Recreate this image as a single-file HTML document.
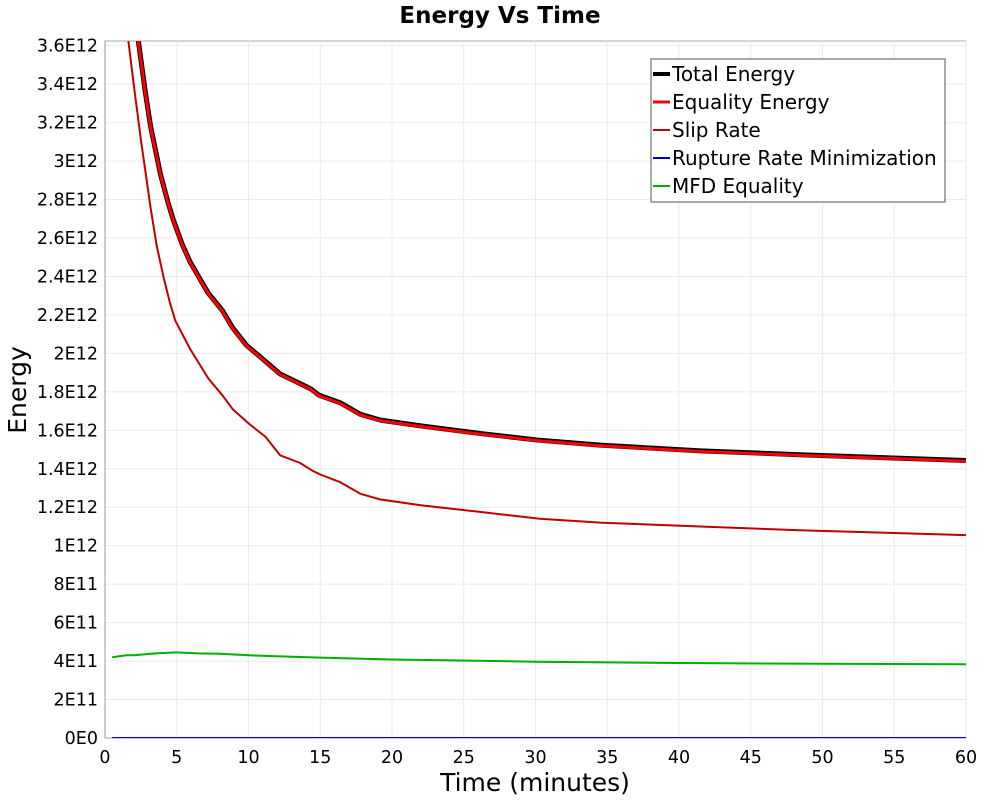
<!DOCTYPE html>
<html><head><meta charset="utf-8"><style>
body{margin:0;background:#fff;}
svg{display:block;font-family:"DejaVu Sans","Liberation Sans",sans-serif;}
</style></head><body>
<svg id="chart" width="1000" height="800" xmlns="http://www.w3.org/2000/svg">
<defs><clipPath id="clip"><rect x="105" y="41" width="861" height="697"/></clipPath></defs>
<text x="500" y="23" text-anchor="middle" font-size="23" font-weight="bold">Energy Vs Time</text>
<rect x="105" y="41" width="861" height="697" fill="#fff" stroke="#aaa"/>
<g id="grid"></g><g id="axes"></g><g id="series" clip-path="url(#clip)"></g>
<text x="535" y="791" text-anchor="middle" font-size="25">Time (minutes)</text>
<text transform="translate(26,390) rotate(-90)" text-anchor="middle" font-size="25">Energy</text>
<g>
<rect x="651" y="59" width="294" height="143" fill="#fff" stroke="#555"/>
<g id="legend"></g>
</g>
</svg>
<script>
const xTicks=[0,5,10,15,20,25,30,35,40,45,50,55,60];
const yTicks=[0,2e11,4e11,6e11,8e11,1e12,1.2e12,1.4e12,1.6e12,1.8e12,2e12,2.2e12,2.4e12,2.6e12,2.8e12,3e12,3.2e12,3.4e12,3.6e12];
const yTickLabels=["0E0","2E11","4E11","6E11","8E11","1E12","1.2E12","1.4E12","1.6E12","1.8E12","2E12","2.2E12","2.4E12","2.6E12","2.8E12","3E12","3.2E12","3.4E12","3.6E12"];
const tMain=[2.0,2.33,2.8,3.17,3.86,4.4,4.77,5.4,5.95,6.65,7.2,8.18,8.9,9.85,10.8,12.2,13.6,14.4,14.9,16.4,17.8,19.2,22,26.2,30.3,34.5,41.5,48.4,60];
const equalityEnergy=[3.85,3.62,3.36,3.18,2.93,2.78,2.69,2.56,2.47,2.38,2.31,2.22,2.13,2.04,1.98,1.89,1.84,1.81,1.78,1.74,1.68,1.65,1.62,1.58,1.545,1.52,1.49,1.47,1.44];
const totalEnergy=[3.853,3.623,3.363,3.183,2.933,2.783,2.693,2.563,2.473,2.383,2.313,2.223,2.133,2.043,1.983,1.893,1.843,1.813,1.783,1.743,1.683,1.653,1.623,1.583,1.548,1.523,1.493,1.473,1.443];
const tSlip=[1.4,1.64,2.0,2.5,3.17,3.6,4.07,4.5,4.9,5.95,7.2,8.2,8.9,10.1,11.2,12.2,13.6,14.45,15,16.4,17.8,19.2,22,26.2,30.3,34.5,41.5,48.4,60];
const slipRate=[3.8,3.62,3.4,3.11,2.76,2.56,2.40,2.27,2.17,2.02,1.87,1.78,1.71,1.63,1.565,1.47,1.43,1.39,1.37,1.33,1.27,1.24,1.21,1.175,1.14,1.12,1.10,1.08,1.055];
const tMfd=[0.5,1.5,2,3.5,5,6.5,8,10,12,15,20,30,40,50,60];
const mfdEquality=[0.42,0.43,0.43,0.44,0.445,0.44,0.438,0.43,0.425,0.418,0.408,0.397,0.39,0.386,0.383];
const tRup=[0.5,60];
const ruptureRate=[0,0];
const NS="http://www.w3.org/2000/svg";
const X=t=>105+t*(966-105)/60;
const Y=v=>738-v*(738-45.7)/3.6e12;
function el(tag,attrs,parent){const e=document.createElementNS(NS,tag);for(const k in attrs)e.setAttribute(k,attrs[k]);parent.appendChild(e);return e;}
const grid=document.getElementById('grid'),axes=document.getElementById('axes'),ser=document.getElementById('series'),leg=document.getElementById('legend');
xTicks.forEach(t=>{
 const l=el('line',{x1:X(t),x2:X(t),y1:41,y2:738,stroke:'#ebebeb'},grid);
 
 
 const tx=el('text',{x:X(t),y:763,'text-anchor':'middle','font-size':17.5},axes);
 tx.textContent=t;
 
 
});
yTicks.forEach((v,i)=>{
 const l=el('line',{x1:105,x2:966,y1:Y(v),y2:Y(v),stroke:'#ebebeb'},grid);
 
 
 const tx=el('text',{x:98,y:Y(v)+6,'text-anchor':'end','font-size':17.5},axes);
 tx.textContent=yTickLabels[i];
 
 
});
const a1=el('line',{x1:105,x2:105,y1:41,y2:738,stroke:'#999'},axes);


const a2=el('line',{x1:105,x2:966,y1:738,y2:738,stroke:'#999'},axes);


function line(ts,vs,scale,color,w,name){
 const d=ts.map((t,i)=>(i?'L':'M')+X(t).toFixed(1)+','+Y(vs[i]*scale).toFixed(1)).join('');
 const p=el('path',{d:d,fill:'none',stroke:color,'stroke-width':w,'stroke-linejoin':'round'},ser);
 
 
}
line(tMain,totalEnergy,1e12,'#000',5,'total-energy-line');
line(tMain,equalityEnergy,1e12,'#ff0000',3,'equality-energy-line');
line(tSlip,slipRate,1e12,'#c00000',2,'slip-rate-line');
line(tRup,ruptureRate,1e12,'#0000c0',2,'rupture-rate-minimization-line');
line(tMfd,mfdEquality,1e12,'#00b000',2,'mfd-equality-line');
const legItems=[["Total Energy","#000",4],["Equality Energy","#ff0000",3],["Slip Rate","#c00000",2],["Rupture Rate Minimization","#0000c0",2],["MFD Equality","#00b000",2]];
legItems.forEach((it,i)=>{
 const y=74+i*28;
 const g=el('g',{},leg);
 
 
 el('line',{x1:653,x2:670,y1:y,y2:y,stroke:it[1],'stroke-width':it[2]},g);
 const t=el('text',{x:672,y:y+7,'font-size':20,textLength:'',},g);
 t.removeAttribute('textLength');
 t.textContent=it[0];
});
</script>
</body></html>
